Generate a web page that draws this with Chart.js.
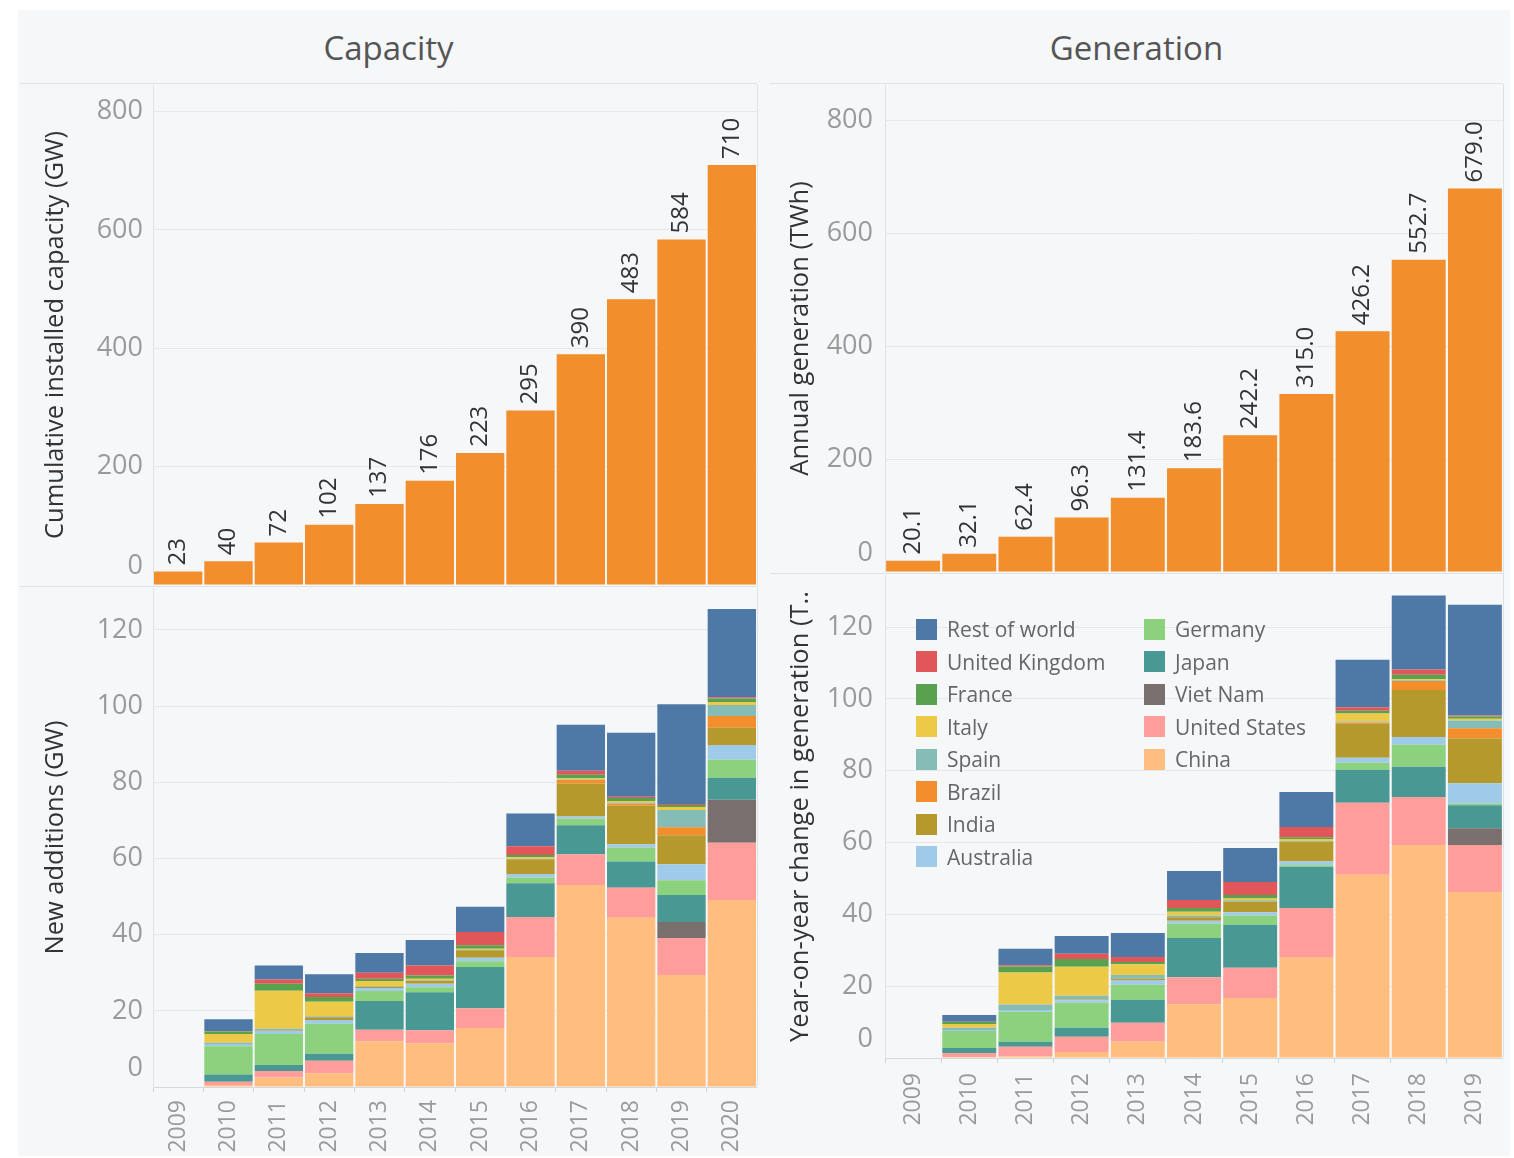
<!DOCTYPE html>
<html>
<head>
<meta charset="utf-8">
<script src="https://cdn.jsdelivr.net/npm/chart.js@4"></script>
<style>
  html, body { margin: 0; padding: 0; background: #ffffff; }
  body { width: 1514px; height: 1158px; position: relative; overflow: hidden; font-family: "Open Sans", sans-serif; }
  .frame { position: absolute; left: 18px; top: 10px; width: 1492px; height: 1146px; background: #f5f7f9; }
  .hdr { position: absolute; top: 25px; font-size: 33px; color: #555; text-align: center; }
  .line { position: absolute; background: #dfe3e7; }
  canvas { position: absolute; }
  .legend { position: absolute; left: 916px; top: 613px; display: grid; grid-template-columns: 228px 200px; grid-auto-flow: column; grid-template-rows: repeat(8, 32.5px); font-size: 21px; color: #666; }
  .legend div { display: flex; align-items: center; }
  .legend span.sw { width: 21px; height: 21px; margin-right: 10px; display: inline-block; }
</style>
</head>
<body>
<div class="frame"></div>
<div class="hdr" style="left:20px;width:737px;">Capacity</div>
<div class="hdr" style="left:770px;width:733px;">Generation</div>
<div class="line" style="left:20px;top:83px;width:737px;height:1px;"></div>
<div class="line" style="left:770px;top:83px;width:733px;height:1px;"></div>
<div class="line" style="left:20px;top:586px;width:737px;height:1px;"></div>
<div class="line" style="left:770px;top:573px;width:733px;height:1px;"></div>
<div class="line" style="left:757px;top:84px;width:1px;height:1003px;"></div>
<div class="line" style="left:1503px;top:84px;width:1px;height:974px;"></div>
<canvas id="capTop" width="737" height="500" style="left:20px;top:85px;"></canvas>
<canvas id="capNew" width="737" height="567" style="left:20px;top:588px;"></canvas>
<canvas id="genTop" width="733" height="487" style="left:770px;top:85px;"></canvas>
<canvas id="genNew" width="733" height="580" style="left:770px;top:575px;"></canvas>
<div class="legend" id="legend"></div>
<script>
// ---------------- DATA ----------------
const capYears = ['2009','2010','2011','2012','2013','2014','2015','2016','2017','2018','2019','2020'];
const genYears = ['2009','2010','2011','2012','2013','2014','2015','2016','2017','2018','2019'];

const cumulativeCapacityGW = [23, 40, 72, 102, 137, 176, 223, 295, 390, 483, 584, 710];
const annualGenerationTWh = [20.1, 32.1, 62.4, 96.3, 131.4, 183.6, 242.2, 315.0, 426.2, 552.7, 679.0];

// stacking order, bottom to top
const countries = ['China','United States','Viet Nam','Japan','Germany','Australia','India','Brazil','Spain','Italy','France','United Kingdom','Rest of world'];

// New additions (GW), 2009..2020
const addChina        = [null, 0.5, 2.5, 3.6, 12.0, 11.5, 15.5, 34.1, 53.0, 44.4, 29.4, 49.1];
const addUS           = [null, 0.9, 1.7, 3.3, 3.0, 3.4, 5.2, 10.5, 8.1, 7.9, 9.7, 15.0];
const addVietNam      = [null, 0, 0, 0, 0, 0, 0, 0, 0, 0.1, 4.2, 11.3];
const addJapan        = [null, 1.9, 1.6, 1.8, 7.6, 10.0, 10.8, 8.9, 7.6, 6.8, 7.1, 5.8];
const addGermany      = [null, 7.4, 8.1, 7.9, 2.6, 1.3, 1.5, 1.5, 1.7, 3.7, 3.9, 4.7];
const addAustralia    = [null, 0.4, 0.8, 1.0, 0.8, 0.9, 0.9, 0.9, 0.6, 0.8, 4.2, 3.9];
const addIndia        = [null, 0, 0.1, 0.7, 0.3, 0.8, 2.0, 3.9, 8.7, 10.2, 7.6, 4.5];
const addBrazil       = [null, 0, 0, 0, 0, 0, 0, 0, 0.9, 0.5, 2.1, 3.1];
const addSpain        = [null, 0.5, 0.5, 0.3, 0.2, 0.1, 0.1, 0.1, 0.1, 0.3, 4.5, 2.9];
const addItaly        = [null, 2.3, 10.0, 3.8, 1.3, 0.4, 0.3, 0.4, 0.4, 0.4, 0.8, 0.8];
const addFrance       = [null, 0.7, 1.8, 1.2, 0.6, 0.9, 0.9, 0.6, 0.9, 0.8, 0.5, 0.9];
const addUK           = [null, 0.1, 1.1, 1.0, 1.6, 2.6, 3.5, 2.3, 1.0, 0.3, 0.3, 0.3];
const addRestOfWorld  = [null, 3.1, 3.7, 5.0, 5.2, 6.7, 6.6, 8.6, 12.1, 16.8, 26.2, 23.2];

// Year-on-year change in generation (TWh), 2009..2019
const genChina        = [null, 0.3, 0.5, 1.7, 4.5, 15.0, 16.7, 27.9, 51.0, 59.3, 46.2];
const genUS           = [null, 1.1, 2.6, 4.2, 5.3, 7.5, 8.4, 13.9, 20.1, 13.4, 13.1];
const genVietNam      = [null, 0, 0, 0, 0, 0, 0, 0, 0, 0, 4.7];
const genJapan        = [null, 1.4, 1.4, 2.5, 6.4, 10.9, 12.0, 11.4, 9.2, 8.4, 6.4];
const genGermany      = [null, 4.7, 8.4, 7.0, 4.2, 4.0, 2.5, 0.5, 1.9, 6.1, 0.5];
const genAustralia    = [null, 0.3, 0.5, 0.7, 1.2, 0.8, 1.0, 1.0, 1.4, 2.2, 5.6];
const genIndia        = [null, 0, 0, 0.2, 0.5, 1.0, 3.0, 5.6, 9.5, 13.1, 12.5];
const genBrazil       = [null, 0, 0, 0, 0, 0, 0, 0, 0.3, 2.5, 2.8];
const genSpain        = [null, 0.6, 1.5, 1.0, 1.0, 0.5, 0.3, 0.2, 0.3, 0.2, 2.2];
const genItaly        = [null, 1.1, 8.9, 8.1, 3.0, 1.0, 0.5, 0.5, 2.2, 0.3, 0.5];
const genFrance       = [null, 0.5, 1.7, 2.2, 0.6, 1.1, 1.0, 0.5, 0.8, 1.2, 0.6];
const genUK           = [null, 0.1, 0.3, 1.4, 1.4, 2.2, 3.6, 2.8, 1.0, 1.5, 0.3];
const genRestOfWorld  = [null, 1.9, 4.6, 5.0, 6.7, 8.1, 9.5, 9.8, 13.2, 20.6, 30.8];

const capTicksStep = 200, newCapTicksStep = 20;

// ---------------- STYLE ----------------
const colors = {
  'Rest of world':'#4e79a7', 'United Kingdom':'#e15759', 'France':'#59a14f', 'Italy':'#edc948',
  'Spain':'#86bcb6', 'Brazil':'#f28e2b', 'India':'#b6992d', 'Australia':'#a0cbe8',
  'Germany':'#8cd17d', 'Japan':'#499894', 'Viet Nam':'#79706e', 'United States':'#ff9d9a', 'China':'#ffbe7d'
};
const legendOrder = ['Rest of world','United Kingdom','France','Italy','Spain','Brazil','India','Australia','Germany','Japan','Viet Nam','United States','China'];
const FONT = '"Open Sans", sans-serif';
const TICK_COLOR = '#9a9a9a';
const TITLE_COLOR = '#333333';
const GRID = 'rgba(0,0,0,0.06)';

const addSeries = [addChina, addUS, addVietNam, addJapan, addGermany, addAustralia, addIndia, addBrazil, addSpain, addItaly, addFrance, addUK, addRestOfWorld];
const genSeries = [genChina, genUS, genVietNam, genJapan, genGermany, genAustralia, genIndia, genBrazil, genSpain, genItaly, genFrance, genUK, genRestOfWorld];

// nudge the "0" tick label upward like the original
const nudgeZero = {
  id: 'nudgeZero',
  beforeDraw(chart) {
    const s = chart.scales.y;
    if (!s) return;
    const items = s.getLabelItems();
    items.forEach(it => {
      if (it.label === '0' && !it._nudged && it.options && it.options.translation) {
        it.options.translation[1] -= 19;
        it._nudged = true;
      }
    });
  }
};

// rotated value labels above bars
const barLabels = {
  id: 'barLabels',
  afterDatasetsDraw(chart, args, opts) {
    if (!opts || !opts.enabled) return;
    const ctx = chart.ctx;
    const meta = chart.getDatasetMeta(0);
    const data = chart.data.datasets[0].data;
    ctx.save();
    ctx.fillStyle = '#333333';
    ctx.font = '24px ' + FONT;
    ctx.textAlign = 'left';
    ctx.textBaseline = 'middle';
    meta.data.forEach((bar, i) => {
      const v = data[i];
      if (v == null) return;
      ctx.save();
      ctx.translate(bar.x, bar.y - 6);
      ctx.rotate(-Math.PI / 2);
      ctx.fillText(v.toFixed(opts.decimals), 0, 0);
      ctx.restore();
    });
    ctx.restore();
  }
};

function noPad(s) { s.paddingTop = 0; s.paddingBottom = 0; s.paddingLeft = 0; s.paddingRight = 0; }

function yAxis(max, step, axisWidth, title, titlePad, tickPad) {
  return {
    min: 0, max: max,
    afterFit(s) { s.width = axisWidth; noPad(s); },
    ticks: { stepSize: step, includeBounds: false, color: TICK_COLOR, padding: tickPad, font: { family: FONT, size: 27 } },
    grid: { color: GRID, drawTicks: false },
    border: { display: true, color: '#dfe3e7' },
    title: { display: true, text: title, color: TITLE_COLOR, font: { family: FONT, size: 25.5 }, padding: { top: titlePad, bottom: 0 } }
  };
}

function xAxisTop() {
  return { display: false, stacked: true, afterFit(s) { noPad(s); } };
}
function xAxisBottom(height, pad) {
  return {
    stacked: true,
    afterFit(s) { s.height = height; noPad(s); },
    ticks: { color: TICK_COLOR, minRotation: 90, maxRotation: 90, padding: pad, font: { family: FONT, size: 23 } },
    grid: { offset: true, drawOnChartArea: false, tickLength: 5, color: '#cfd4d9' },
    border: { display: true, color: '#d5d9de' }
  };
}

function baseOptions() {
  return {
    responsive: false, animation: false, devicePixelRatio: 1,
    layout: { padding: 0 },
    plugins: { legend: { display: false }, tooltip: { enabled: false } }
  };
}

// Top left: cumulative capacity
new Chart(document.getElementById('capTop'), {
  type: 'bar',
  data: { labels: capYears, datasets: [{ data: cumulativeCapacityGW, backgroundColor: '#f28e2b', barPercentage: 0.96, categoryPercentage: 1 }] },
  options: Object.assign(baseOptions(), {
    scales: { x: xAxisTop(), y: yAxis(845, capTicksStep, 133, 'Cumulative installed capacity (GW)', 20, 10) },
    plugins: { legend: { display: false }, tooltip: { enabled: false }, barLabels: { enabled: true, decimals: 0 } }
  }),
  plugins: [nudgeZero, barLabels]
});

// Bottom left: new additions
new Chart(document.getElementById('capNew'), {
  type: 'bar',
  data: {
    labels: capYears,
    datasets: countries.map((c, i) => ({ label: c, data: addSeries[i], backgroundColor: colors[c], barPercentage: 0.96, categoryPercentage: 1 }))
  },
  options: Object.assign(baseOptions(), {
    scales: { x: xAxisBottom(68, 8), y: Object.assign(yAxis(131, newCapTicksStep, 133, 'New additions (GW)', 20, 10), { stacked: true }) }
  }),
  plugins: [nudgeZero]
});

// Top right: annual generation
new Chart(document.getElementById('genTop'), {
  type: 'bar',
  data: { labels: genYears, datasets: [{ data: annualGenerationTWh, backgroundColor: '#f28e2b', barPercentage: 0.96, categoryPercentage: 1 }] },
  options: Object.assign(baseOptions(), {
    scales: { x: xAxisTop(), y: yAxis(862, capTicksStep, 115, 'Annual generation (TWh)', 15, 12) },
    plugins: { legend: { display: false }, tooltip: { enabled: false }, barLabels: { enabled: true, decimals: 1 } }
  }),
  plugins: [nudgeZero, barLabels]
});

// Bottom right: year-on-year change in generation
new Chart(document.getElementById('genNew'), {
  type: 'bar',
  data: {
    labels: genYears,
    datasets: countries.map((c, i) => ({ label: c, data: genSeries[i], backgroundColor: colors[c], barPercentage: 0.96, categoryPercentage: 1 }))
  },
  options: Object.assign(baseOptions(), {
    scales: { x: xAxisBottom(97, 10), y: Object.assign(yAxis(134.5, newCapTicksStep, 115, 'Year-on-year change in generation (T..', 15, 12), { stacked: true }) }
  }),
  plugins: [nudgeZero]
});

// HTML legend
const lg = document.getElementById('legend');
legendOrder.forEach(name => {
  const d = document.createElement('div');
  const sw = document.createElement('span');
  sw.className = 'sw';
  sw.style.background = colors[name];
  d.appendChild(sw);
  d.appendChild(document.createTextNode(name));
  lg.appendChild(d);
});
</script>
</body>
</html>
